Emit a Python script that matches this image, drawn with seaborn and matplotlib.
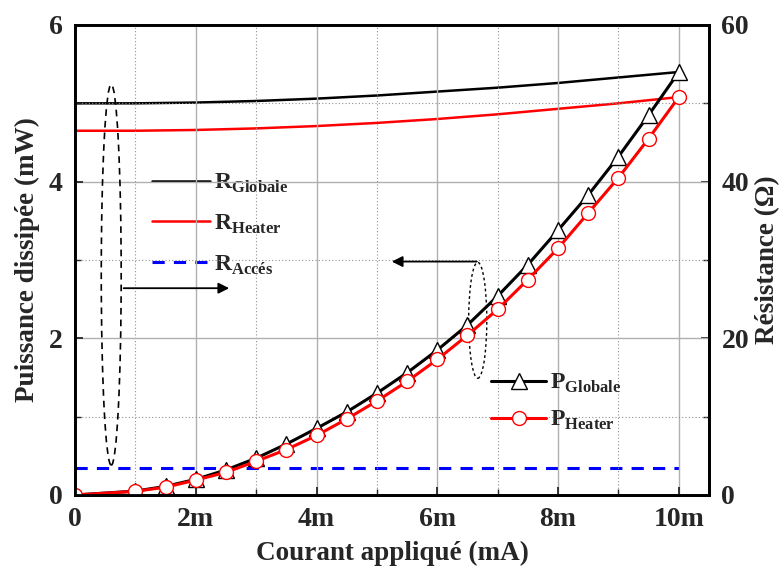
import numpy as np
import pandas as pd
import matplotlib
matplotlib.use("Agg")
import matplotlib.pyplot as plt
import seaborn as sns
from matplotlib.patches import Ellipse
from matplotlib.ticker import MultipleLocator, FixedLocator

# Données
courant_p = [0, 1, 1.5, 2, 2.5, 3, 3.5, 4, 4.5, 5, 5.5, 6, 6.5, 7, 7.5, 8, 8.5, 9, 9.5, 10]
p_globale = [0, 0.05, 0.11, 0.20, 0.32, 0.47, 0.65, 0.85, 1.06, 1.30, 1.56, 1.85, 2.17,
             2.54, 2.94, 3.38, 3.83, 4.32, 4.85, 5.40]
p_heater = [0, 0.047, 0.10, 0.19, 0.29, 0.43, 0.58, 0.76, 0.97, 1.20, 1.45, 1.73, 2.04,
            2.37, 2.75, 3.15, 3.60, 4.05, 4.55, 5.08]

courant_r = [0, 1, 2, 3, 4, 5, 6, 7, 8, 9, 10]
r_globale = [50.0, 50.0, 50.1, 50.3, 50.6, 51.0, 51.5, 52.0, 52.6, 53.3, 54.0]
r_heater = [46.5, 46.5, 46.6, 46.8, 47.1, 47.5, 48.0, 48.6, 49.3, 50.0, 50.8]
r_acces = [3.4, 3.4, 3.4, 3.4, 3.4, 3.4, 3.4, 3.4, 3.4, 3.4, 3.4]

xticks = [0, 2, 4, 6, 8, 10]
xtick_labels = ["0", "2m", "4m", "6m", "8m", "10m"]

sns.set_style("ticks")
plt.rcParams['font.family'] = ['Liberation Serif', 'DejaVu Serif']
plt.rcParams['font.weight'] = 'bold'
plt.rcParams['mathtext.fontset'] = 'custom'
plt.rcParams['mathtext.rm'] = 'Liberation Serif'
plt.rcParams['mathtext.bf'] = 'Liberation Serif:bold'

df_p = pd.DataFrame({'I': courant_p, 'Pg': p_globale, 'Ph': p_heater})
df_r = pd.DataFrame({'I': courant_r, 'Rg': r_globale, 'Rh': r_heater, 'Ra': r_acces})

fig = plt.figure(figsize=(7.8, 5.67), dpi=100)
ax = fig.add_axes([75/780, 1-495/567, (709-75)/780, (495-25)/567])
ax2 = ax.twinx()

# grille
ax.set_xlim(0, 10.5)
ax.set_ylim(0, 6)
ax.xaxis.set_major_locator(FixedLocator(xticks))
ax.xaxis.set_minor_locator(FixedLocator([1, 3, 5, 7, 9]))
ax.yaxis.set_major_locator(MultipleLocator(2))
ax.yaxis.set_minor_locator(MultipleLocator(1))
ax.grid(which='major', color='#b0b0b0', lw=1.0, ls='-')
ax.grid(which='minor', color='#909090', lw=0.8, ls=(0, (1, 2)))
ax.set_axisbelow(True)

# courbes de résistance (axe droit)
sns.lineplot(data=df_r, x='I', y='Rg', ax=ax2, color='black', lw=1.8,
             label=r'$\mathbf{R}_{\mathbf{Globale}}$')
sns.lineplot(data=df_r, x='I', y='Rh', ax=ax2, color='#ff0000', lw=1.8,
             label=r'$\mathbf{R}_{\mathbf{Heater}}$')
sns.lineplot(data=df_r, x='I', y='Ra', ax=ax2, color='#0000ff', lw=2.2,
             dashes=(4, 3), label=r'$\mathbf{R}_{\mathbf{Accés}}$')
ax2.set_ylim(0, 60)
ax2.yaxis.set_major_locator(MultipleLocator(20))
ax2.yaxis.set_minor_locator(MultipleLocator(10))

# courbes de puissance (axe gauche)
ax.set_zorder(ax2.get_zorder() + 1)
ax.patch.set_visible(False)
sns.lineplot(data=df_p, x='I', y='Pg', ax=ax, color='black', lw=2.2, marker='^',
             markersize=11, markerfacecolor='white', markeredgecolor='black',
             markeredgewidth=1.0, label=r'$\mathbf{P}_{\mathbf{Globale}}$')
sns.lineplot(data=df_p, x='I', y='Ph', ax=ax, color='#ff0000', lw=2.2, marker='o',
             markersize=10, markerfacecolor='white', markeredgecolor='#ff0000',
             markeredgewidth=1.0, label=r'$\mathbf{P}_{\mathbf{Heater}}$')

# ellipses et flèches
ax.add_patch(Ellipse((0.6, 2.81), 0.33, 4.86, fill=False, ls=(0, (4, 3)), lw=1.2,
                     color='black', clip_on=False))
ax.annotate('', xy=(2.6, 2.64), xytext=(0.76, 2.64),
            arrowprops=dict(arrowstyle='-|>', color='black', lw=1.3,
                            mutation_scale=16))
ax.add_patch(Ellipse((6.67, 2.23), 0.3, 1.48, fill=False, ls=(0, (2, 2)), lw=1.0,
                     color='black'))
ax.annotate('', xy=(5.2, 2.98), xytext=(6.7, 2.98),
            arrowprops=dict(arrowstyle='-|>', color='black', lw=1.3,
                            mutation_scale=16))

# légendes
h2, l2 = ax2.get_legend_handles_labels()
ax2.legend(h2, l2, loc='upper left', bbox_to_anchor=(140/780, 1-160/567),
           bbox_transform=fig.transFigure, frameon=False, fontsize=17,
           handlelength=2.45, handletextpad=0.2, labelspacing=0.75, borderpad=0)
h1, l1 = ax.get_legend_handles_labels()
ax.legend(h1, l1, loc='upper left', bbox_to_anchor=(479/780, 1-360/567),
          bbox_transform=fig.transFigure, frameon=False, fontsize=17,
          handlelength=2.35, handletextpad=0.15, labelspacing=0.6, borderpad=0)

# axes et étiquettes
ax.set_xticks(xticks)
ax.set_xticklabels(xtick_labels)
ax.set_xlabel('Courant appliqué (mA)', fontsize=19.5, fontweight='bold', labelpad=6)
ax.set_ylabel('Puissance dissipée (mW)', fontsize=19.5, fontweight='bold', labelpad=6)
ax2.set_ylabel('Résistance (Ω)', fontsize=19.5, fontweight='bold', labelpad=4)
for a in (ax, ax2):
    a.tick_params(which='major', direction='in', length=6, width=1.3, labelsize=20)
    a.tick_params(which='minor', direction='in', length=4, width=1)
    for s in a.spines.values():
        s.set_linewidth(2)
        s.set_color('black')
    for t in a.get_xticklabels() + a.get_yticklabels():
        t.set_fontweight('bold')
ax.tick_params(axis='x', which='major', pad=9)
ax.tick_params(axis='y', which='major', pad=9)
ax2.tick_params(axis='y', which='major', pad=9)

fig.savefig('out.png', dpi=100)
